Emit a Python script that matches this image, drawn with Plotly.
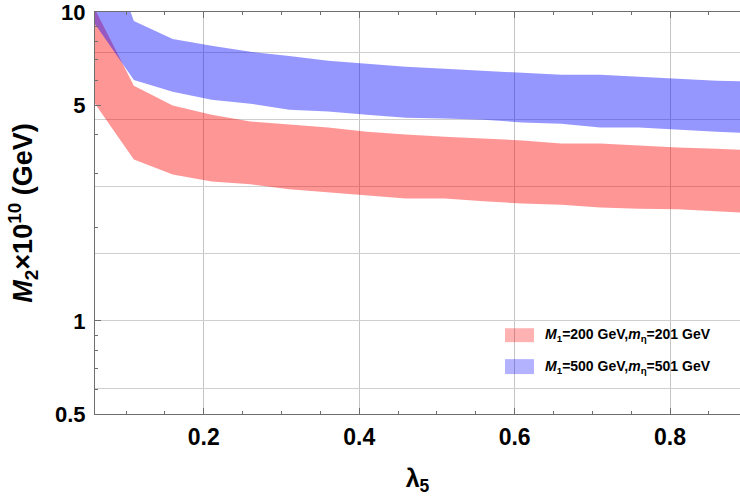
import math
import plotly.graph_objects as go

lam5 = [0.06, 0.11, 0.16, 0.21, 0.26, 0.31, 0.36, 0.41, 0.46, 0.51,
        0.56, 0.61, 0.66, 0.71, 0.76, 0.81, 0.86, 0.91]

red_upper = [10.2, 5.77, 4.98, 4.65, 4.42, 4.32, 4.23, 4.10, 4.01, 3.95,
             3.89, 3.84, 3.75, 3.75, 3.70, 3.64, 3.61, 3.56]
red_lower = [5.05, 3.33, 2.98, 2.83, 2.77, 2.67, 2.61, 2.55, 2.49, 2.49,
             2.44, 2.40, 2.38, 2.33, 2.31, 2.30, 2.26, 2.23]

blue_upper = [21.0, 9.35, 8.18, 7.77, 7.43, 7.21, 6.95, 6.80, 6.65, 6.55,
              6.45, 6.36, 6.26, 6.26, 6.17, 6.08, 5.99, 5.95]
blue_lower = [9.15, 6.03, 5.52, 5.20, 5.05, 4.83, 4.76, 4.65, 4.55, 4.52,
              4.48, 4.39, 4.35, 4.23, 4.23, 4.16, 4.10, 4.04]

red_label = "<b><i>M</i><sub>1</sub>=200 GeV,<i>m</i><sub>η</sub>=201 GeV</b>"
blue_label = "<b><i>M</i><sub>1</sub>=500 GeV,<i>m</i><sub>η</sub>=501 GeV</b>"

y_major = [0.5, 1, 5, 10]
y_major_text = ["0.5", "1", "5", "10"]
y_minor = [0.6, 0.7, 0.8, 0.9, 2, 3, 4, 6, 7, 8, 9]
y_grid = [math.exp(n / 2) for n in range(-1, 5)]
x_major = [0.2, 0.4, 0.6, 0.8]

FONT = "Liberation Sans, Arial, sans-serif"
RED = "rgba(255,0,0,0.41)"
BLUE = "rgba(0,0,255,0.41)"

fig = go.Figure()
# invisible carrier so the grid axis (e^(n/2) lines) is drawn
fig.add_trace(go.Scatter(
    x=[lam5[0]] * len(y_grid), y=y_grid, yaxis="y2", mode="markers",
    marker=dict(opacity=0), showlegend=False, hoverinfo="skip"))
fig.add_trace(go.Scatter(
    x=lam5 + lam5[::-1], y=red_upper + red_lower[::-1],
    fill="toself", fillcolor=RED, mode="lines",
    line=dict(width=0), name="red", showlegend=False, hoverinfo="skip"))
fig.add_trace(go.Scatter(
    x=lam5 + lam5[::-1], y=blue_upper + blue_lower[::-1],
    fill="toself", fillcolor=BLUE, mode="lines",
    line=dict(width=0), name="blue", showlegend=False, hoverinfo="skip"))

axis_col = "#6e6e6e"
eps = 1e-6
fig.update_layout(
    width=740, height=499,
    margin=dict(l=95, r=0, t=12, b=85),
    plot_bgcolor="white", paper_bgcolor="white",
    font=dict(family=FONT, color="black"),
    showlegend=False,
    xaxis=dict(
        range=[0.06, 0.89], tickvals=x_major, ticktext=["<b>%.1f</b>" % v for v in x_major],
        tickfont=dict(size=23), ticks="inside", ticklen=6, tickcolor=axis_col,
        showline=True, linecolor=axis_col, linewidth=1, mirror="ticks",
        showgrid=True, gridcolor="#c4c4c4", gridwidth=1, zeroline=False,
        minor=dict(dtick=0.05, tick0=0, ticks="inside", ticklen=3, tickcolor=axis_col, showgrid=False),
        title=dict(text="<b>λ<sub>5</sub></b>", font=dict(size=25), standoff=20),
        ticklabelstandoff=2, automargin=False, ticklabeloverflow="allow",
    ),
    yaxis=dict(
        type="log", range=[math.log10(0.5) - eps, 1 + eps],
        tickvals=y_major, ticktext=["<b>%s</b>" % t for t in y_major_text],
        tickfont=dict(size=22), ticks="inside", ticklen=6, tickcolor=axis_col,
        showline=True, linecolor=axis_col, linewidth=1, mirror=False,
        showgrid=False, zeroline=False,
        minor=dict(tickvals=y_minor, ticks="inside", ticklen=3, tickcolor=axis_col, showgrid=False),
        title=dict(text="<b><i>M</i><sub>2</sub>×10<sup>10</sup> (GeV)</b>", font=dict(size=27), standoff=14),
        ticklabelstandoff=4, automargin=False, ticklabeloverflow="allow",
    ),
    yaxis2=dict(
        type="log", range=[math.log10(0.5) - eps, 1 + eps], overlaying="y", anchor="x", side="left",
        tickvals=y_grid, showticklabels=False, ticks="", showgrid=True,
        gridcolor="#cfcfcf", gridwidth=1, zeroline=False, showline=False, automargin=False,
    ),
)

# legend drawn as swatches + labels in paper coordinates
legend_rows = [(red_label, "rgba(255,0,0,0.3)", 0.1787, 0.2134),
               (blue_label, "rgba(0,0,255,0.3)", 0.0993, 0.1365)]
for label, col, y0, y1 in legend_rows:
    fig.add_shape(type="rect", xref="paper", yref="paper", x0=0.6357, x1=0.6806,
                  y0=y0, y1=y1, fillcolor=col, line=dict(width=0), layer="above")
    fig.add_annotation(xref="paper", yref="paper", x=0.6946, y=(y0 + y1) / 2,
                       xanchor="left", yanchor="middle", text=label, showarrow=False,
                       font=dict(size=14, family=FONT, color="black"))

fig.write_html("out.html", config={"displayModeBar": False},
               post_script="document.body.style.margin='0px';")
